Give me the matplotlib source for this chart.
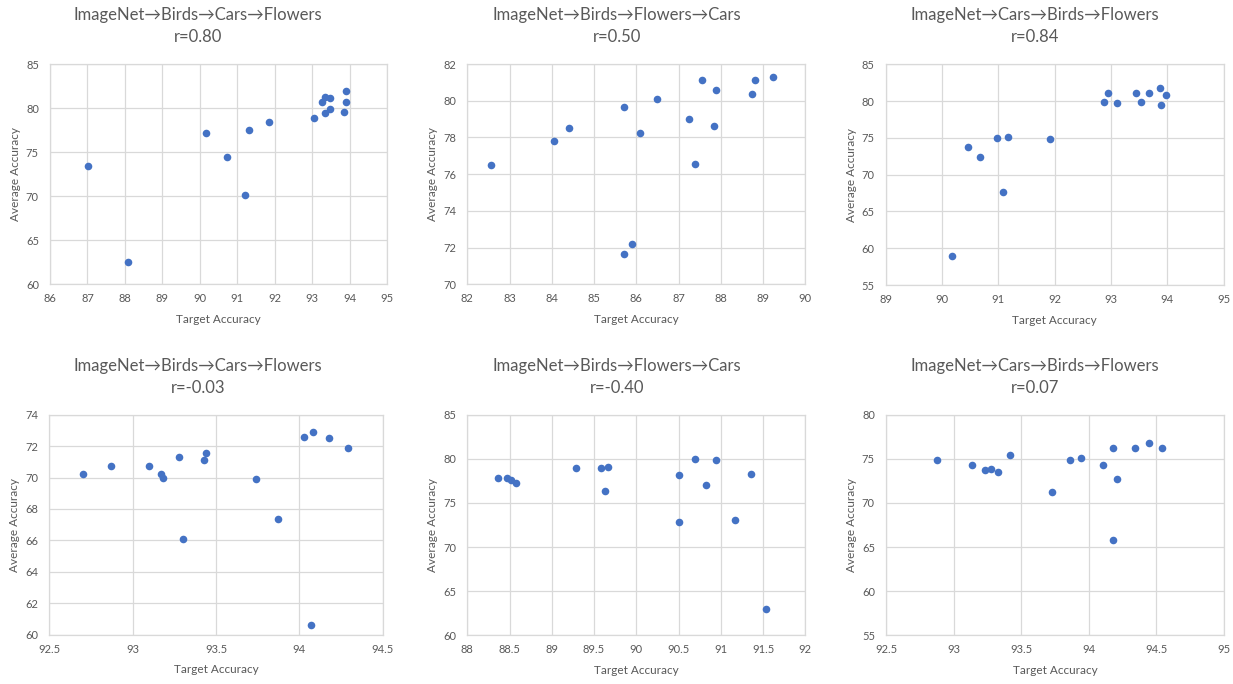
import numpy as np
import matplotlib
matplotlib.use('Agg')
import matplotlib.pyplot as plt
from matplotlib.ticker import FuncFormatter

plt.rcParams['font.family'] = ['Lato', 'DejaVu Sans']

# chart titles and correlation values
titles = ['ImageNet→Birds→Cars→Flowers', 'ImageNet→Birds→Flowers→Cars', 'ImageNet→Cars→Birds→Flowers',
          'ImageNet→Birds→Cars→Flowers', 'ImageNet→Birds→Flowers→Cars', 'ImageNet→Cars→Birds→Flowers']
r_values = ['0.80', '0.50', '0.84', '-0.03', '-0.40', '0.07']

# (target accuracy, average accuracy)
p1_x = [87.02, 88.07, 90.17, 90.72, 91.19, 91.31, 91.85, 93.04, 93.26, 93.33, 93.35, 93.47, 93.47, 93.89, 93.91, 93.84]
p1_y = [73.45, 62.54, 77.2, 74.5, 70.11, 77.5, 78.5, 78.86, 80.68, 81.33, 79.5, 81.17, 79.96, 81.93, 80.72, 79.62]

p2_x = [82.56, 84.05, 84.41, 85.70, 85.70, 85.91, 86.09, 86.49, 87.24, 87.40, 87.56, 87.85, 87.89, 88.75, 88.81, 89.23]
p2_y = [76.52, 77.79, 78.53, 79.68, 71.67, 72.2, 78.23, 80.09, 79.03, 76.54, 81.13, 78.61, 80.57, 80.37, 81.13, 81.31]

p3_x = [90.18, 90.46, 90.67, 90.98, 91.09, 91.17, 91.91, 92.88, 92.95, 93.11, 93.44, 93.54, 93.68, 93.87, 93.88, 93.98]
p3_y = [59.0, 73.81, 72.45, 75.03, 67.69, 75.08, 74.8, 79.86, 81.09, 79.77, 81.05, 79.86, 81.05, 81.82, 79.41, 80.82]

p4_x = [92.70, 92.87, 93.10, 93.17, 93.18, 93.28, 93.30, 93.43, 93.44, 93.74, 93.87, 94.03, 94.07, 94.08, 94.18, 94.29]
p4_y = [70.25, 70.75, 70.71, 70.25, 70.0, 71.29, 66.06, 71.1, 71.58, 69.94, 67.35, 72.58, 60.6, 72.9, 72.54, 71.88]

p5_x = [88.36, 88.47, 88.52, 88.58, 89.29, 89.58, 89.63, 89.66, 90.50, 90.50, 90.69, 90.82, 90.94, 91.17, 91.36, 91.54]
p5_y = [77.79, 77.86, 77.6, 77.22, 78.96, 78.96, 76.35, 79.03, 78.12, 72.82, 80.0, 77.03, 79.92, 73.08, 78.27, 62.98]

p6_x = [92.88, 93.14, 93.23, 93.28, 93.33, 93.42, 93.73, 93.86, 93.94, 94.11, 94.18, 94.18, 94.21, 94.34, 94.45, 94.54]
p6_y = [74.81, 74.25, 73.77, 73.8, 73.53, 75.45, 71.28, 74.81, 75.04, 74.26, 76.19, 65.84, 72.71, 76.26, 76.75, 76.26]

xs = [p1_x, p2_x, p3_x, p4_x, p5_x, p6_x]
ys = [p1_y, p2_y, p3_y, p4_y, p5_y, p6_y]

# axis ticks
x_ticks = [np.arange(86, 95.1, 1), np.arange(82, 90.1, 1), np.arange(89, 95.1, 1),
           np.arange(92.5, 94.51, 0.5), np.arange(88, 92.01, 0.5), np.arange(92.5, 95.01, 0.5)]
y_ticks = [np.arange(60, 85.1, 5), np.arange(70, 82.1, 2), np.arange(55, 85.1, 5),
           np.arange(60, 74.1, 2), np.arange(60, 85.1, 5), np.arange(55, 80.1, 5)]

W, H = 1233, 684
# plot areas in pixels: left, top, right, bottom
boxes = [(50, 64.3, 387.3, 284.3), (467.3, 64, 805.3, 284.3), (885.7, 64.3, 1223.7, 285),
         (49.3, 414.7, 382.7, 634.7), (467.3, 414.7, 805.3, 635.3), (886, 414.7, 1223.7, 635.3)]
title_cx = [198, 617, 1035, 198, 617, 1035]
title_y = [15, 366]

grey = '#595959'
grid = '#D9D9D9'
blue = '#4472C4'

fig = plt.figure(figsize=(W / 100, H / 100), dpi=100)
fig.patch.set_facecolor('white')

for i in range(6):
    l, t, r, b = boxes[i]
    ax = fig.add_axes([l / W, 1 - b / H, (r - l) / W, (b - t) / H])
    ax.scatter(xs[i], ys[i], s=30, color=blue, zorder=3, linewidths=0)

    ax.set_xlim(x_ticks[i][0], x_ticks[i][-1])
    ax.set_ylim(y_ticks[i][0], y_ticks[i][-1])
    ax.set_xticks(x_ticks[i])
    ax.set_yticks(y_ticks[i])
    fmt = FuncFormatter(lambda v, p: '{:g}'.format(round(v, 2)))
    ax.xaxis.set_major_formatter(fmt)
    ax.yaxis.set_major_formatter(fmt)
    ax.grid(True, color=grid, linewidth=0.9, zorder=0)
    ax.set_axisbelow(True)
    for s in ax.spines.values():
        s.set_color(grid)
        s.set_linewidth(0.9)
    ax.tick_params(axis='both', length=0, labelsize=8, labelcolor=grey)
    ax.tick_params(axis='x', pad=6.5)
    ax.tick_params(axis='y', pad=8)

    ax.set_xlabel('Target Accuracy', fontsize=8.5, color=grey)
    ax.set_ylabel('Average Accuracy', fontsize=8.5, color=grey)
    ax.xaxis.set_label_coords(0.5, -35 / (b - t))
    ax.xaxis.label.set_verticalalignment('center')
    ax.yaxis.set_label_coords(-34.5 / (r - l), 0.5)
    ax.yaxis.label.set_verticalalignment('center')

    ty = title_y[i // 3]
    fig.text(title_cx[i] / W, 1 - ty / H, titles[i], ha='center', va='center', fontsize=12, color=grey)
    fig.text(title_cx[i] / W, 1 - (ty + 22) / H, 'r=' + r_values[i], ha='center', va='center',
             fontsize=12, color=grey)

fig.savefig('out.png', dpi=100)
